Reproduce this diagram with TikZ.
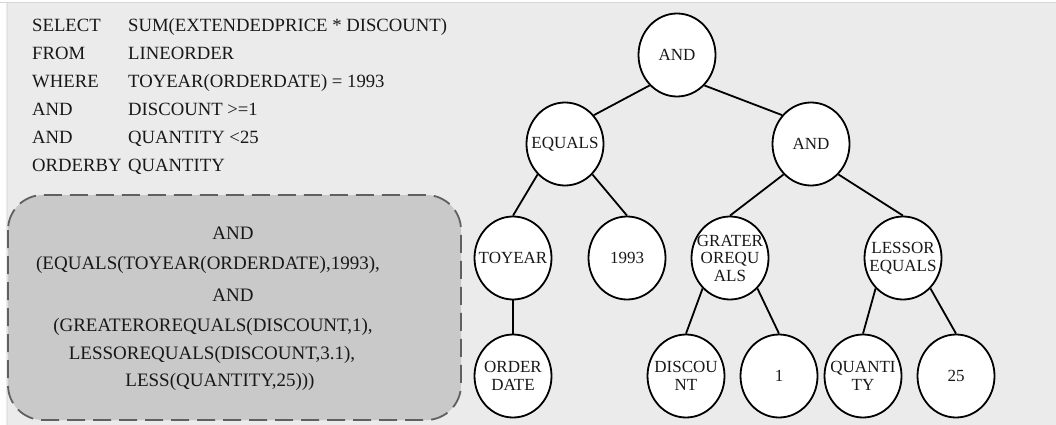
\documentclass[tikz,border=0pt]{standalone}
\usepackage{fontspec}
\setmainfont{Liberation Serif}
\usetikzlibrary{shapes.geometric}
\definecolor{panel}{HTML}{EBEBEB}
\definecolor{boxfill}{HTML}{C9C9C9}
\definecolor{boxline}{HTML}{606060}
\definecolor{ink}{HTML}{181818}
\tikzset{
  sqltext/.style={anchor=base west, inner sep=0pt, text=ink,
    font=\fontsize{18.7}{20}\selectfont},
  exprtext/.style={anchor=base, inner sep=0pt, text=ink,
    font=\fontsize{19}{20}\selectfont},
  exprbox/.style={draw=boxline, fill=boxfill, line width=1.8pt,
    dash pattern=on 18pt off 8pt, rounded corners=35pt},
  treenode/.style={ellipse, draw=black, fill=white, line width=1.8pt,
    minimum width=77pt, minimum height=83pt, inner sep=0pt},
  nlabel/.style={align=center, inner sep=0pt, text=ink,
    font=\fontsize{17}{17.5}\selectfont},
  edge/.style={line width=1.8pt, draw=black}
}
\begin{document}
\begin{tikzpicture}[x=1pt, y=-1pt]
% panel background with its thin frame
\useasboundingbox (0,0) rectangle (1056,425);
\fill[panel] (0,0) rectangle (1056,425);
\fill[white!96!panel] (0,0) rectangle (6,425);
\fill[white!96!panel] (0,0) rectangle (1056,2);
\draw[black!16, line width=1pt] (0,3) -- (1056,3);
\draw[black!12, line width=0.8pt] (7,3) -- (7,425);

% SQL query
\node[sqltext] (k1) at (32,32) {SELECT};
\node[sqltext] (v1) at (128,32) {SUM(EXTENDEDPRICE * DISCOUNT)};
\node[sqltext] (k2) at (32,60) {FROM};
\node[sqltext] (v2) at (128,60) {LINEORDER};
\node[sqltext] (k3) at (32,88) {WHERE};
\node[sqltext] (v3) at (128,88) {TOYEAR(ORDERDATE) = 1993};
\node[sqltext] (k4) at (32,115.5) {AND};
\node[sqltext] (v4) at (128,115.5) {DISCOUNT >=1};
\node[sqltext] (k5) at (32,143) {AND};
\node[sqltext] (v5) at (128,143) {QUANTITY <25};
\node[sqltext] (k6) at (32,171) {ORDERBY};
\node[sqltext] (v6) at (128,171) {QUANTITY};

% prefix form of the predicate
\path[exprbox] (8,195) rectangle (461,420);
\node[exprtext] (e1) at (233,239) {AND};
\node[exprtext] (e2) at (208,269) {(EQUALS(TOYEAR(ORDERDATE),1993),};
\node[exprtext] (e3) at (233,301) {AND};
\node[exprtext] (e4) at (213,331) {(GREATEROREQUALS(DISCOUNT,1),};
\node[exprtext] (e5) at (212,359) {LESSOREQUALS(DISCOUNT,3.1),};
\node[exprtext] (e6) at (220,386) {LESS(QUANTITY,25)))};

% expression tree
\node[treenode, label={[nlabel]center:AND}] (root) at (677,55) {};
\node[treenode, label={[nlabel]center:EQUALS}] (eq) at (565,144) {};
\node[treenode, label={[nlabel]center:AND}] (and2) at (811,144) {};
\node[treenode, label={[nlabel]center:TOYEAR}] (toy) at (513,258) {};
\node[treenode, label={[nlabel]center:1993}] (y93) at (627,258) {};
\node[treenode, label={[nlabel]center:{GRATER\\OREQU\\ALS}}] (gre) at (730,258) {};
\node[treenode, label={[nlabel]center:{LESSOR\\EQUALS}}] (les) at (903,258) {};
\node[treenode, label={[nlabel]center:{ORDER\\DATE}}] (od) at (513,376) {};
\node[treenode, label={[nlabel]center:{DISCOU\\NT}}] (disc) at (686,376) {};
\node[treenode, label={[nlabel]center:1}] (one) at (779,376) {};
\node[treenode, label={[nlabel]center:{QUANTI\\TY}}] (qty) at (863,376) {};
\node[treenode, label={[nlabel]center:25}] (tf) at (956,376) {};

\draw[edge] (root.228) -- (eq.45);
\draw[edge] (root.312) -- (and2.135);
\draw[edge] (eq.228) -- (toy.north);
\draw[edge] (eq.312) -- (y93.north);
\draw[edge] (and2.228) -- (gre.north);
\draw[edge] (and2.312) -- (les.north);
\draw[edge] (toy.south) -- (od.north);
\draw[edge] (gre.228) -- (disc.north);
\draw[edge] (gre.312) -- (one.north);
\draw[edge] (les.228) -- (qty.north);
\draw[edge] (les.312) -- (tf.north);
\end{tikzpicture}
\end{document}
